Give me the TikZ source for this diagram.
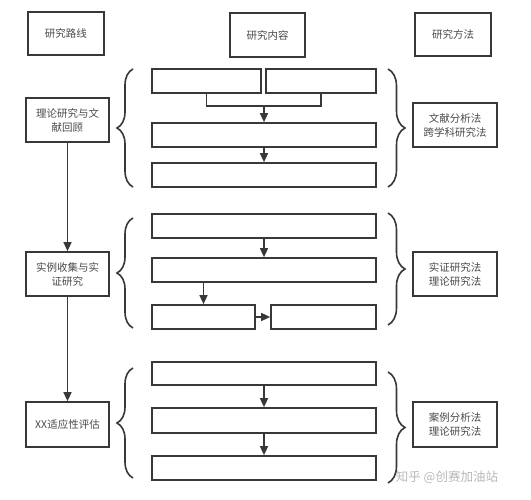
\documentclass[tikz,border=0pt]{standalone}
\usepackage{fontspec}
\newfontfamily\cjk{Noto Sans CJK SC}
\usetikzlibrary{arrows.meta,decorations.pathreplacing}
\definecolor{ln}{HTML}{383838}
\definecolor{tx}{HTML}{4A4A4A}
\tikzset{
  box/.style={draw=ln,line width=1.7pt,rectangle,inner sep=0pt,font=\cjk\fontsize{10.5}{14}\selectfont,text=tx,align=center},
  wbox/.style={box,minimum height=24pt},
  arr/.style={draw=ln,line width=1.5pt,-{Triangle[length=9pt,width=8pt]}},
  ln/.style={draw=ln,line width=1.5pt},
  lbrace/.style={draw=ln,line width=1.6pt,decorate,decoration={brace,amplitude=16pt}},
  rbrace/.style={draw=ln,line width=1.6pt,decorate,decoration={brace,amplitude=17pt}},
}
\begin{document}
\begin{tikzpicture}[x=1pt,y=-1pt]
\useasboundingbox[fill=white] (0,0) rectangle (531,500);
% headers
\node[box,minimum width=76pt,minimum height=43pt] (h1) at (66,33.5) {研究路线};
\node[box,minimum width=75pt,minimum height=44pt] (h2) at (267.5,35) {研究内容};
\node[box,minimum width=76pt,minimum height=43pt] (h3) at (453,34.5) {研究方法};
% left column
\node[box,minimum width=83pt,minimum height=44pt] (L1) at (67.5,120) {理论研究与文\\献回顾};
\node[box,minimum width=83pt,minimum height=44pt] (L2) at (67.5,274) {实例收集与实\\证研究};
\node[box,minimum width=83pt,minimum height=45pt] (L3) at (67.5,424.5) {XX适应性评估};
% right column
\node[box,minimum width=84pt,minimum height=44pt] (R1) at (455,125) {文献分析法\\跨学科研究法};
\node[box,minimum width=84pt,minimum height=44pt] (R2) at (455,274) {实证研究法\\理论研究法};
\node[box,minimum width=84pt,minimum height=45pt] (R3) at (455,424.5) {案例分析法\\理论研究法};
% section 1
\node[wbox,minimum width=109pt] (a1) at (206.5,81) {};
\node[wbox,minimum width=110pt] (a2) at (321,81) {};
\node[wbox,minimum width=224pt] (a3) at (264,135) {};
\node[wbox,minimum width=224pt] (a4) at (264,175) {};
\coordinate (m) at (264,106);
\draw[ln] (a1.south) |- (m) -| (a2.south);
\draw[arr] (m) -- (a3.north);
\draw[arr] (a3.south) -- (a4.north);
% section 2
\node[wbox,minimum width=224pt] (b1) at (264,226) {};
\node[wbox,minimum width=224pt] (b2) at (264,270) {};
\node[wbox,minimum width=103pt] (b3) at (203.5,317) {};
\node[wbox,minimum width=105pt] (b4) at (323.5,317) {};
\draw[arr] (b1.south) -- (b2.north);
\draw[arr] (b3.north |- b2.south) -- (b3.north);
\draw[arr] (b3.east) -- (b4.west);
% section 3
\node[box,minimum width=224pt,minimum height=23pt] (c1) at (264,373.5) {};
\node[box,minimum width=224pt,minimum height=25pt] (c2) at (264,420.5) {};
\node[wbox,minimum width=224pt] (c3) at (264,468) {};
\draw[arr] (c1.south) -- (c2.north);
\draw[arr] (c2.south) -- (c3.north);
% left flow
\draw[arr] (L1.south) -- (L2.north);
\draw[arr] (L2.south) -- (L3.north);
% braces
\coordinate (lb1a) at (133,187); \coordinate (lb1b) at (133,69);
\coordinate (lb2a) at (133,328); \coordinate (lb2b) at (133,218);
\coordinate (lb3a) at (133,478); \coordinate (lb3b) at (133,368);
\coordinate (rb1a) at (388,69);  \coordinate (rb1b) at (388,187);
\coordinate (rb2a) at (388,213); \coordinate (rb2b) at (388,325);
\coordinate (rb3a) at (388,372); \coordinate (rb3b) at (388,483);
\draw[lbrace] (lb1a) -- (lb1b);
\draw[lbrace] (lb2a) -- (lb2b);
\draw[lbrace] (lb3a) -- (lb3b);
\draw[rbrace] (rb1a) -- (rb1b);
\draw[rbrace] (rb2a) -- (rb2b);
\draw[rbrace] (rb3a) -- (rb3b);
% watermark
\node[font=\cjk\fontsize{12.5}{14}\selectfont,text=gray!55] (wm) at (447,477) {知乎 @创赛加油站};
\end{tikzpicture}
\end{document}
